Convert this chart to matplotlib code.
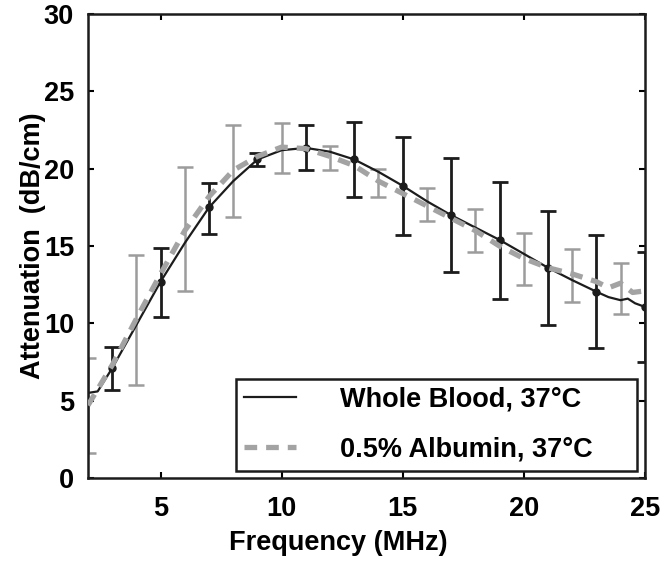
import matplotlib.pyplot as plt
import numpy as np

plt.rcParams['font.family'] = ['Liberation Sans', 'DejaVu Sans']
plt.rcParams['font.weight'] = 'bold'

# whole blood: smooth curve + mean/sd at odd frequencies
blood_curve_f = [2, 2.4, 3, 4, 5, 6, 7, 8, 9, 10, 11, 12, 13, 14, 15, 16, 17,
                 18, 19, 20, 21, 22, 23, 23.5, 24, 24.3, 24.6, 25]
blood_curve = [5.5, 5.6, 7.1, 9.9, 12.7, 15.2, 17.5, 19.2, 20.6, 21.2, 21.35,
               21.1, 20.6, 19.8, 18.9, 17.9, 17.0, 16.2, 15.4, 14.5, 13.6,
               12.8, 12.05, 11.7, 11.5, 11.6, 11.3, 11.07]
blood_f = [3, 5, 7, 9, 11, 13, 15, 17, 19, 21, 23, 25]
blood_mean = [7.1, 12.7, 17.5, 20.6, 21.35, 20.6, 18.9, 17.0, 15.4, 13.6, 12.05, 11.07]
blood_top = [8.5, 14.9, 19.05, 21.0, 22.8, 23.0, 22.05, 20.7, 19.15, 17.3, 15.7, 14.6]
blood_bot = [5.7, 10.4, 15.8, 20.2, 19.95, 18.2, 15.7, 13.3, 11.6, 9.9, 8.4, 7.5]

# 0.5% albumin: smooth curve + mean/sd at even frequencies
alb_curve_f = [2, 3, 4, 5, 6, 7, 8, 9, 10, 11, 12, 13, 14, 15, 16, 17, 18,
               19, 20, 21, 22, 23, 23.5, 24, 24.5, 25]
alb_curve = [4.7, 7.3, 10.3, 13.2, 16.0, 18.2, 19.9, 20.8, 21.4, 21.3, 20.8,
             20.2, 19.2, 18.4, 17.6, 16.8, 16.0, 15.0, 14.2, 13.6, 13.2, 12.7,
             12.3, 12.6, 12.0, 12.1]
alb_f = [2, 4, 6, 8, 10, 12, 14, 16, 18, 20, 22, 24]
alb_mean = [4.7, 10.2, 16.0, 19.8, 21.4, 20.8, 19.05, 17.7, 16.0, 14.2, 13.1, 12.3]
alb_top = [7.75, 14.45, 20.1, 22.8, 22.95, 21.45, 20.0, 18.75, 17.4, 15.85, 14.8, 13.9]
alb_bot = [1.6, 6.0, 12.1, 16.9, 19.75, 19.95, 18.2, 16.6, 14.6, 12.5, 11.4, 10.6]

BLACK = '#1c1c1c'
GRAY_BAR = '#9c9c9c'
GRAY_LINE = '#a3a3a3'
FS = 19.5

fig = plt.figure(figsize=(6.64, 5.66), dpi=100)
ax = fig.add_axes([0.1325, 0.1555, 0.8385, 0.8195])

am = np.array(alb_mean)
ax.errorbar(alb_f, am, yerr=[am - np.array(alb_bot), np.array(alb_top) - am],
            fmt='none', ecolor=GRAY_BAR, elinewidth=1.8, capsize=5.5,
            capthick=1.8, zorder=2)
bm = np.array(blood_mean)
ax.errorbar(blood_f, bm, yerr=[bm - np.array(blood_bot), np.array(blood_top) - bm],
            fmt='o', color=BLACK, ms=5, ecolor=BLACK, elinewidth=2,
            capsize=5.5, capthick=2, zorder=3)

l1, = ax.plot(blood_curve_f, blood_curve, color=BLACK, lw=1.6, zorder=4)
l2, = ax.plot(alb_curve_f, alb_curve, color=GRAY_LINE, lw=3.8,
              ls=(0, (2.4, 1.7)), zorder=5)

ax.set_xlim(2, 25)
ax.set_ylim(0, 30)
ax.set_xticks([5, 10, 15, 20, 25])
ax.set_yticks([0, 5, 10, 15, 20, 25, 30])
ax.tick_params(direction='in', top=True, right=True, length=4, width=1.5,
               labelsize=FS)
ax.tick_params(axis='y', pad=10)
ax.tick_params(axis='x', pad=13)
for s in ax.spines.values():
    s.set_linewidth(1.8)
    s.set_color(BLACK)

ax.set_xlabel('Frequency (MHz)', fontsize=FS, fontweight='bold')
ax.xaxis.set_label_coords(0.449, -0.113)
ax.set_ylabel('Attenuation  (dB/cm)', fontsize=FS, fontweight='bold')
ax.yaxis.set_label_coords(-0.075, 0.5)

leg = ax.legend([l1, l2], ['Whole Blood, 37\u00b0C', '0.5% Albumin, 37\u00b0C'],
                loc='lower left', bbox_to_anchor=(0.266, 0.0155, 0.72, 0.211),
                mode='expand', fontsize=FS, handlelength=1.9, handletextpad=1.65,
                labelspacing=0.88, borderaxespad=0, borderpad=0.3,
                fancybox=False, framealpha=1)
leg.get_frame().set_edgecolor(BLACK)
leg.get_frame().set_linewidth(1.8)

fig.savefig('out.png', dpi=100)
